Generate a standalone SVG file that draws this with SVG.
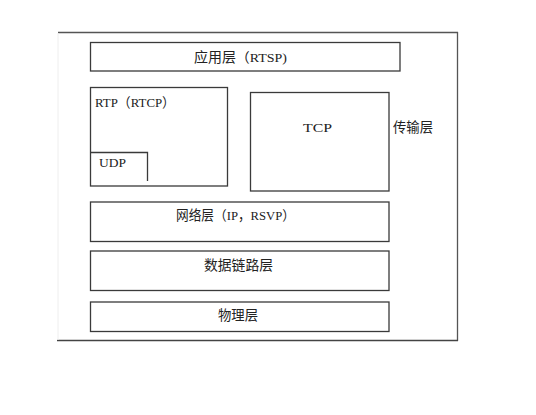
<svg xmlns="http://www.w3.org/2000/svg" width="536" height="415" viewBox="0 0 536 415">
<style>
.box{fill:#fff;stroke:#3a3a3a;stroke-width:1.3}
.t{font-family:"Liberation Serif","Noto Sans CJK SC",serif;font-size:13.5px;fill:#222}
</style>
<rect width="536" height="415" fill="#fff"/>
<g id="frame">
<line x1="58" y1="32.5" x2="458" y2="32.5" stroke="#555" stroke-width="1.3"/>
<line x1="457.5" y1="32" x2="457.5" y2="341" stroke="#555" stroke-width="1.3"/>
<line x1="57" y1="340.5" x2="458" y2="340.5" stroke="#444" stroke-width="1.3"/>
<line x1="58" y1="33" x2="58" y2="340" stroke="#eee" stroke-width="1"/>
</g>
<g id="app"><rect class="box" x="90.5" y="42.5" width="309.5" height="28.5"/><text class="t" x="194" y="62" textLength="93" lengthAdjust="spacingAndGlyphs">应用层（RTSP)</text></g>
<g id="rtp"><rect class="box" x="90.5" y="87.5" width="137" height="98.5"/><text class="t" x="95" y="107" textLength="80" lengthAdjust="spacingAndGlyphs">RTP（RTCP）</text></g>
<g id="udp"><path d="M90.5 152.5 H147.5 V181" fill="none" stroke="#3a3a3a" stroke-width="1.3"/><text class="t" x="99" y="167" textLength="27" lengthAdjust="spacingAndGlyphs">UDP</text></g>
<g id="tcp"><rect class="box" x="250.5" y="92.5" width="138.5" height="98.5"/><text class="t" x="303" y="132" textLength="29" lengthAdjust="spacingAndGlyphs">TCP</text></g>
<g id="transport"><text class="t" x="393" y="132" textLength="40" lengthAdjust="spacingAndGlyphs">传输层</text></g>
<g id="network"><rect class="box" x="90.5" y="202" width="298.5" height="39.5"/><text class="t" x="176" y="220" textLength="119" lengthAdjust="spacingAndGlyphs">网络层（IP，RSVP）</text></g>
<g id="datalink"><rect class="box" x="90.5" y="251" width="298.5" height="39.5"/><text class="t" x="204" y="270" textLength="69" lengthAdjust="spacingAndGlyphs">数据链路层</text></g>
<g id="physical"><rect class="box" x="90.5" y="302" width="298.5" height="29.5"/><text class="t" x="218" y="320" textLength="40" lengthAdjust="spacingAndGlyphs">物理层</text></g>
<g id="connectors"/>
</svg>
